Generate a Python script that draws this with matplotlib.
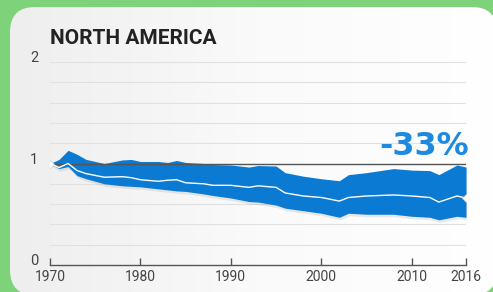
import numpy as np
import matplotlib as mpl
import matplotlib.pyplot as plt
from matplotlib.patches import FancyBboxPatch
from matplotlib.transforms import ScaledTranslation

mpl.rcParams['font.family'] = ['Roboto', 'DejaVu Sans']

# Living Planet Index, North America (1970 = 1)
years = [1970, 1971, 1972, 1973, 1974, 1976, 1978, 1979, 1980, 1982, 1983,
         1984, 1985, 1987, 1988, 1990, 1992, 1993, 1995, 1996, 1998, 2000,
         2002, 2003, 2005, 2008, 2010, 2012, 2013, 2015, 2016]
index = [1.00, 0.96, 1.00, 0.93, 0.90, 0.865, 0.87, 0.86, 0.84, 0.825, 0.835,
         0.84, 0.81, 0.80, 0.785, 0.785, 0.765, 0.78, 0.765, 0.71, 0.68, 0.665,
         0.63, 0.665, 0.68, 0.69, 0.68, 0.665, 0.62, 0.68, 0.66]
upper = [1.00, 1.04, 1.13, 1.09, 1.04, 1.00, 1.035, 1.04, 1.02, 1.02, 1.01,
         1.03, 1.01, 1.00, 0.99, 0.985, 0.965, 0.98, 0.975, 0.91, 0.875, 0.85,
         0.83, 0.89, 0.91, 0.95, 0.935, 0.93, 0.89, 0.985, 0.965]
lower = [1.00, 0.95, 0.97, 0.88, 0.85, 0.80, 0.78, 0.775, 0.77, 0.75, 0.74,
         0.73, 0.725, 0.70, 0.685, 0.66, 0.625, 0.62, 0.59, 0.56, 0.535, 0.51,
         0.47, 0.51, 0.50, 0.50, 0.48, 0.47, 0.445, 0.48, 0.47]
xticks = [1970, 1980, 1990, 2000, 2010, 2016]
yticks = [0, 1, 2]
title = 'NORTH AMERICA'
change = '-33%'

W, H = 493, 292
fig = plt.figure(figsize=(W / 100, H / 100), dpi=100)
fig.patch.set_facecolor('#7dd27a')

# rounded white panel with a soft left-to-right gradient
bg = fig.add_axes([0, 0, 1, 1])
bg.set_xlim(0, W)
bg.set_ylim(H, 0)
bg.axis('off')
r = 25
panel = FancyBboxPatch((10 + r, 7 + r), 497 - 10 - 2 * r, 295 - 7 - 2 * r,
                       boxstyle='round,pad=%d' % r, transform=bg.transData,
                       facecolor='none', edgecolor='none')
bg.add_patch(panel)
grad = np.linspace(0, 1, 256)[None, :]
img = bg.imshow(grad, extent=[10, 500, H, 7], aspect='auto',
                cmap=mpl.colors.LinearSegmentedColormap.from_list(
                    'p', ['#eeeeee', '#fafafa', '#ffffff']))
img.set_clip_path(panel)

ax = fig.add_axes([50 / W, (H - 265) / H, 416 / W, 203 / H])
ax.set_xlim(1970, 2016)
ax.set_ylim(0, 2)
ax.patch.set_visible(False)

for g in np.arange(0.2, 2.01, 0.2):
    ax.axhline(g, color='#e0e0e0', lw=0.8, zorder=1)

# soft drop shadow under the band
shadow = ScaledTranslation(1 / 100, -2.5 / 100, fig.dpi_scale_trans)
ax.fill_between(years, lower, upper, color='#8a8a8a', alpha=0.18, lw=0,
                transform=ax.transData + shadow, zorder=2)
ax.fill_between(years, lower, upper, color='#0a7ad2', lw=0, zorder=3)
ax.axhline(1, color='#555555', lw=1.0, zorder=4)
ax.plot(years, index, color='white', lw=1.0, zorder=5)
ax.plot([years[0], years[-1]], [index[0], index[-1]], 'D', color='white',
        ms=4.5, mec='#d0d0d0', mew=0.5, zorder=6)

for s in ['top', 'right', 'left']:
    ax.spines[s].set_visible(False)
ax.spines['bottom'].set_color('#555555')
ax.spines['bottom'].set_linewidth(1.0)
ax.set_xticks(xticks)
ax.set_yticks(yticks)
ax.set_yticklabels([str(v) for v in yticks], va='baseline')
ax.tick_params(axis='x', direction='in', length=5, width=1, color='#555555',
               labelsize=10, labelcolor='#444444', pad=3.5)
ax.tick_params(axis='y', length=0, labelsize=10.5, labelcolor='#444444',
               pad=8.5)

fig.text(50 / W, 1 - 44.5 / H, title, fontsize=15, fontweight='bold',
         color='#222222')
fig.text(469 / W, 1 - 155 / H, change, fontsize=23, fontweight='bold',
         color='#1b8ae0', ha='right', family='DejaVu Sans')

fig.savefig('out.png', dpi=100)
